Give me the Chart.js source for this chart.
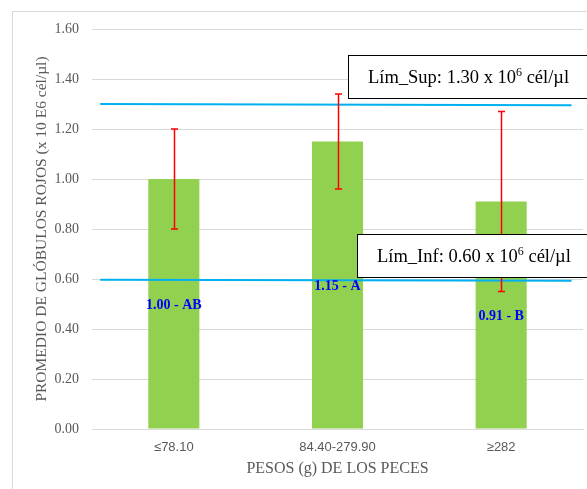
<!DOCTYPE html>
<html>
<head>
<meta charset="utf-8">
<script src="https://cdn.jsdelivr.net/npm/chart.js@4"></script>
<style>
html,body{margin:0;padding:0;background:#fff;}
canvas{display:block;}
</style>
</head>
<body>
<canvas id="c" width="587" height="489"></canvas>
<script>
const categories = ['\u226478.10', '84.40-279.90', '\u2265282'];
const means = [1.00, 1.15, 0.91];
const errLow = [0.80, 0.96, 0.55];
const errHigh = [1.20, 1.34, 1.27];
const barLabels = ['1.00 - AB', '1.15 - A', '0.91 - B'];
const yTicks = [0, 0.2, 0.4, 0.6, 0.8, 1.0, 1.2, 1.4, 1.6];
const limSupLine = [{x: -0.45, y: 1.300}, {x: 2.43, y: 1.295}];
const limInfLine = [{x: -0.45, y: 0.597}, {x: 2.43, y: 0.593}];
const limSupText = ['L\u00edm_Sup: 1.30 x 10', '6', ' c\u00e9l/\u00b5l'];
const limInfText = ['L\u00edm_Inf: 0.60 x 10', '6', ' c\u00e9l/\u00b5l'];

const SERIF = '"Liberation Serif", "Times New Roman", serif';
const SANS = '"Liberation Sans", Arial, sans-serif';
const GRAY = '#595959';

const borderPlugin = {
  id: 'outerBorder',
  beforeDraw(chart) {
    const ctx = chart.ctx;
    ctx.save();
    ctx.fillStyle = '#fff';
    ctx.fillRect(0, 0, chart.width, chart.height);
    ctx.strokeStyle = '#d9d9d9';
    ctx.lineWidth = 1;
    ctx.strokeRect(12.5, 11.5, chart.width + 10, chart.height + 10);
    ctx.restore();
  }
};

const errorPlugin = {
  id: 'errorBars',
  afterDatasetsDraw(chart) {
    const ctx = chart.ctx;
    const meta = chart.getDatasetMeta(0);
    const ys = chart.scales.y;
    ctx.save();
    ctx.strokeStyle = '#ff0000';
    ctx.lineWidth = 1.5;
    meta.data.forEach((bar, i) => {
      const x = Math.round(bar.x) + 0.5;
      const yl = ys.getPixelForValue(errLow[i]);
      const yh = ys.getPixelForValue(errHigh[i]);
      ctx.beginPath();
      ctx.moveTo(x, yl); ctx.lineTo(x, yh);
      ctx.moveTo(x - 3.5, yl); ctx.lineTo(x + 3.5, yl);
      ctx.moveTo(x - 3.5, yh); ctx.lineTo(x + 3.5, yh);
      ctx.stroke();
    });
    ctx.fillStyle = '#0000ff';
    ctx.font = 'bold 14px ' + SERIF;
    ctx.textAlign = 'center';
    ctx.textBaseline = 'middle';
    meta.data.forEach((bar, i) => {
      const yc = ys.getPixelForValue(means[i] / 2) + 1;
      ctx.fillText(barLabels[i], bar.x, yc);
    });
    ctx.restore();
  },
  afterDraw(chart) {
    const ctx = chart.ctx;
    const ys = chart.scales.y;
    const xs = chart.scales.x2;
    function box(parts, leftVal, topVal, botVal) {
      const left = Math.round(xs.getPixelForValue(leftVal)) + 0.5;
      const top = Math.round(ys.getPixelForValue(topVal)) + 0.5;
      const bot = Math.round(ys.getPixelForValue(botVal)) + 0.5;
      ctx.save();
      ctx.fillStyle = '#fff';
      ctx.strokeStyle = '#000';
      ctx.lineWidth = 1;
      ctx.fillRect(left, top, chart.width, bot - top);
      ctx.strokeRect(left, top, chart.width, bot - top);
      ctx.fillStyle = '#000';
      ctx.textBaseline = 'alphabetic';
      ctx.textAlign = 'left';
      const big = '18.5px ' + SERIF;
      const small = '12px ' + SERIF;
      let x = left + 19.5;
      const yb = (top + bot) / 2 + 6;
      ctx.font = big;
      ctx.fillText(parts[0], x, yb);
      x += ctx.measureText(parts[0]).width;
      ctx.font = small;
      ctx.fillText(parts[1], x, yb - 7);
      x += ctx.measureText(parts[1]).width;
      ctx.font = big;
      ctx.fillText(parts[2], x, yb);
      ctx.restore();
    }
    box(limSupText, 1.064, 1.495, 1.325);
    box(limInfText, 1.117, 0.78, 0.61);
  }
};

new Chart(document.getElementById('c'), {
  data: {
    labels: categories,
    datasets: [
      {
        type: 'bar',
        data: means,
        backgroundColor: '#92d050',
        borderWidth: 0,
        grouped: false,
        barPercentage: 0.312,
        categoryPercentage: 1.0,
        order: 2
      },
      {
        type: 'line',
        xAxisID: 'x2',
        data: limSupLine,
        borderColor: '#00b0f0',
        borderWidth: 2,
        pointRadius: 0,
        fill: false,
        order: 1
      },
      {
        type: 'line',
        xAxisID: 'x2',
        data: limInfLine,
        borderColor: '#00b0f0',
        borderWidth: 2,
        pointRadius: 0,
        fill: false,
        order: 1
      }
    ]
  },
  options: {
    responsive: false,
    animation: false,
    devicePixelRatio: 1,
    layout: { padding: { left: 0, right: 4, top: 29, bottom: 0 } },
    plugins: { legend: { display: false }, tooltip: { enabled: false } },
    scales: {
      x: {
        type: 'category',
        offset: true,
        grid: { display: false, drawTicks: false },
        border: { display: true, color: '#d9d9d9', width: 1 },
        ticks: { color: GRAY, font: { family: SANS, size: 13 }, padding: 11, maxRotation: 0 },
        title: {
          display: true,
          text: 'PESOS (g) DE LOS PECES',
          color: GRAY,
          font: { family: SERIF, size: 16 },
          padding: { top: 0, bottom: 11 }
        },
        afterFit(s) { s.height = 60; }
      },
      x2: {
        type: 'linear',
        display: false,
        min: -0.5,
        max: 2.5
      },
      y: {
        type: 'linear',
        min: 0,
        max: 1.6,
        afterBuildTicks(s) { s.ticks = yTicks.map(v => ({ value: v })); },
        grid: { color: '#d9d9d9', drawTicks: false, lineWidth: 1 },
        border: { display: false },
        ticks: {
          color: GRAY,
          font: { family: SERIF, size: 14 },
          padding: 13,
          callback: v => Number(v).toFixed(2)
        },
        title: {
          display: true,
          text: 'PROMEDIO DE GL\u00d3BULOS ROJOS (x 10 E6 c\u00e9l/\u00b5l)',
          color: GRAY,
          font: { family: SERIF, size: 15.5 },
          padding: { top: 33, bottom: 0 }
        },
        afterFit(s) { s.width = 92; }
      }
    }
  },
  plugins: [borderPlugin, errorPlugin]
});
</script>
</body>
</html>
